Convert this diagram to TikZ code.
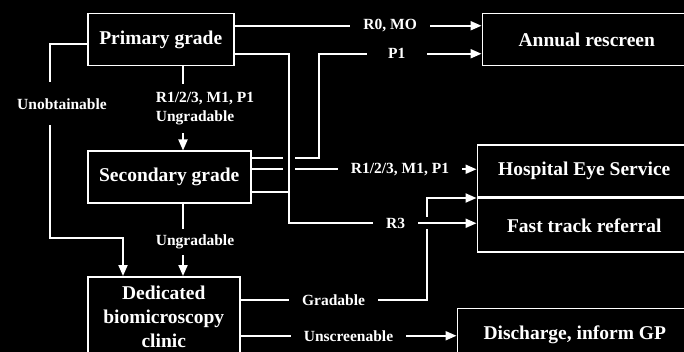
\documentclass[tikz,border=0pt]{standalone}
\usepackage{fontspec}
\setmainfont{Liberation Serif}
\usetikzlibrary{arrows.meta, positioning}

\begin{document}
\begin{tikzpicture}[
    grade/.style={rectangle, draw=white, line width=0.75pt, text=white, align=center, inner sep=0pt, minimum height=26pt, font=\bfseries\fontsize{9.75}{12}\selectfont},
    outcome/.style={grade, minimum width=107pt},
    lbl/.style={fill=black, text=white, align=left, inner xsep=6.5pt, inner ysep=3pt, font=\bfseries\fontsize{7.75}{9.5}\selectfont},
    link/.style={draw=white, line width=1pt},
    arrow/.style={link, -{Triangle[length=5.5pt, width=4.5pt]}},
    over/.style={preaction={draw=black, -, line width=6pt, shorten <=1pt, shorten >=6pt}}
]

% Background
\path [use as bounding box, fill=black] (0,0) rectangle (342pt,-176pt);

% Nodes
\node (prim) [grade, minimum width=73pt, anchor=north west] at (43.5pt,-6.5pt) {Primary grade};
\node (sec) [grade, minimum width=81.5pt, below=42pt of prim.south west, anchor=north west] {Secondary grade};
\node (clinic) [grade, minimum width=76pt, minimum height=40pt, below=36pt of sec.south west, anchor=north west] {Dedicated\\biomicroscopy\\clinic};

\node (annual) [grade, minimum width=104.5pt, right=123.5pt of prim.north east, anchor=north west] {Annual rescreen};
\node (hes) [outcome, below=39pt of annual.south west, anchor=north west, xshift=-2.5pt] {Hospital Eye Service};
\node (fast) [outcome, minimum height=26.5pt, below=0pt of hes.south west, anchor=north west] {Fast track referral};
\node (disc) [grade, minimum width=117.5pt, minimum height=27pt, below=27.5pt of fast.south west, anchor=north west, xshift=-10pt] {Discharge, inform GP};

% Arrows
\draw [arrow] ([yshift=7pt]prim.east) -- node[lbl, pos=0.63] {R0, MO} ([yshift=7pt]prim.east -| annual.west);
\draw [arrow] ([yshift=9.5pt]sec.east) -- ++(33.5pt,0) |- node[lbl, pos=0.74, minimum width=30pt] {P1} ([yshift=-7pt]annual.west);
\draw [arrow] ([yshift=4pt]sec.east) -- node[lbl, pos=0.66] {R1/2/3, M1, P1} ([yshift=4pt]sec.east -| hes.west);
\draw [arrow] ([yshift=8.5pt]clinic.east) -- node[lbl] {Gradable} ++(93pt,0) |- (fast.north west);
\draw [arrow] ([yshift=-9.5pt]clinic.east) -- node[lbl] {Unscreenable} ([yshift=-9.5pt]clinic.east -| disc.west);
\draw [arrow] ([yshift=-2pt]prim.west) -- ++(-18.5pt,0) -- node[lbl, pos=0.31, xshift=6pt, inner ysep=8pt] {Unobtainable} ++(0,-97pt) -| ([xshift=18pt]clinic.north west);
\draw [arrow] ([xshift=48pt]prim.south west) -- node[lbl, xshift=11pt, inner ysep=4pt] {R1/2/3, M1, P1\\Ungradable} ([xshift=48pt]prim.south west |- sec.north);
\draw [arrow] ([xshift=48pt]sec.south west) -- node[lbl, pos=0.53, xshift=6pt] {Ungradable} ([xshift=48pt]sec.south west |- clinic.north);
\draw [arrow, over] ([yshift=-7pt]prim.east) -- ++(27pt,0) coordinate (split) |- node[lbl, pos=0.785] {R3} ([yshift=1pt]fast.west);
\draw [link] ([yshift=-7.5pt]sec.east) -- ([yshift=-7.5pt]sec.east -| split);

\end{tikzpicture}
\end{document}
